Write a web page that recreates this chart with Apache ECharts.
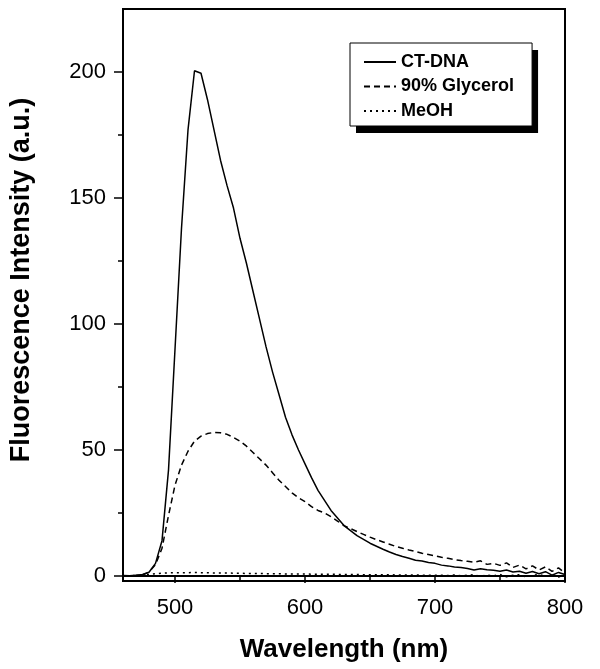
<!DOCTYPE html>
<html>
<head>
<meta charset="utf-8">
<script src="https://cdn.jsdelivr.net/npm/echarts@6/dist/echarts.min.js"></script>
<style>
  html, body { margin: 0; padding: 0; background: #fff; }
  #chart { width: 600px; height: 669px; }
</style>
</head>
<body>
<div id="chart"></div>
<script>
// wavelength (nm)
const wavelengths = [
  460, 465, 470, 475, 480, 485, 490, 495, 500, 505,
  510, 515, 520, 525, 530, 535, 540, 545, 550, 555,
  560, 565, 570, 575, 580, 585, 590, 595, 600, 605,
  610, 615, 620, 625, 630, 635, 640, 645, 650, 655,
  660, 665, 670, 675, 680, 685, 690, 695, 700, 705,
  710, 715, 720, 725, 730, 735, 740, 745, 750, 755,
  760, 765, 770, 775, 780, 785, 790, 795, 800
]
const ctDna = [
  0.2, 0.1, 0.3, 0.6, 1.5, 5, 14, 42, 90, 138,
  177, 200.5, 199.5, 189, 177, 165, 155, 146, 134, 124,
  113, 102, 91, 81, 72, 63, 56, 50, 44.5, 39,
  34, 30, 26, 23, 20, 18, 16, 14.5, 13, 11.8,
  10.6, 9.5, 8.5, 7.7, 7, 6.2, 5.9, 5.3, 5, 4.3,
  4, 3.6, 3.4, 3, 2.4, 2.9, 2.5, 2.3, 1.9, 2.4,
  1.6, 1.9, 1.1, 1.8, 0.9, 1.7, 0.3, 1.4, 0.6
]
const glycerol = [
  0, 0.1, 0.2, 0.4, 1.5, 4.5, 11, 24, 36, 44,
  49.5, 53.5, 55.5, 56.5, 57, 56.8, 56.2, 55, 53.5, 51.5,
  49, 46.5, 44, 41, 38, 35.5, 33, 31, 29.5, 27.5,
  26, 25, 23.5, 21.8, 20, 18.8, 17.6, 16.5, 15.4, 14.4,
  13.5, 12.6, 11.7, 11, 10.3, 9.7, 9, 8.5, 8, 7.4,
  7, 6.5, 6.1, 5.8, 5.4, 6, 4.6, 5, 4.2, 5.2,
  3.4, 4.3, 2.8, 4, 2.4, 3.6, 1.8, 3.2, 1.2
]
const meoh = [
  0, 0, 0.1, 0.3, 0.6, 0.9, 1.1, 1.2, 1.3, 1.3,
  1.3, 1.4, 1.3, 1.3, 1.2, 1.2, 1.2, 1.1, 1.1, 1.0,
  1.0, 1.0, 0.9, 0.9, 0.9, 0.8, 0.8, 0.8, 0.8, 0.7,
  0.7, 0.7, 0.7, 0.6, 0.6, 0.6, 0.6, 0.5, 0.5, 0.5,
  0.5, 0.5, 0.4, 0.4, 0.4, 0.4, 0.3, 0.3, 0.3, 0.3,
  0.2, 0.4, 0.1, 0.3, 0.5, -0.2, 0.4, 0.0, 0.6, -0.3,
  0.3, 0.5, -0.4, 0.2, 0.6, -0.2, 0.3, -0.4, 0.2
]
const seriesNames = ['CT-DNA', '90% Glycerol', 'MeOH']
const xMajorTicks = [500, 600, 700, 800]
const xMinorTicks = [550, 650, 750]
const yMajorTicks = [0, 50, 100, 150, 200]
const yMinorTicks = [25, 75, 125, 175]

const pairs = (ys) => wavelengths.map((x, i) => [x, ys[i]])

const font = 'Liberation Sans, Arial, Helvetica, sans-serif'
const chart = echarts.init(document.getElementById('chart'))

// shared legend layout; the second copy, filled black and shifted, acts as the drop shadow
const legendBase = {
  data: seriesNames,
  orient: 'vertical',
  padding: [10, 18, 6, 13],
  itemWidth: 32,
  itemHeight: 14,
  itemGap: 6.5,
  borderRadius: 0,
  textStyle: { fontFamily: font, fontWeight: 'bold', fontSize: 18, lineHeight: 18, color: '#000' }
}

chart.setOption({
  animation: false,
  grid: {
    left: 120, right: 35, top: 9, bottom: 88,
    show: true,
    borderColor: '#000',
    borderWidth: 2
  },
  legend: [
    Object.assign({}, legendBase, {
      left: 356,
      top: 50,
      z: 3,
      backgroundColor: '#000',
      borderWidth: 0,
      itemStyle: { color: '#000', borderWidth: 0 },
      lineStyle: { color: '#000' }
    }),
    Object.assign({}, legendBase, {
      left: 350,
      top: 43,
      z: 4,
      backgroundColor: '#fff',
      borderColor: '#000',
      borderWidth: 1,
      itemStyle: { opacity: 0, borderWidth: 0 }
    })
  ],
  xAxis: [
    {
      type: 'value',
      min: 460, max: 800,
      name: 'Wavelength (nm)',
      nameLocation: 'middle',
      nameGap: 56,
      nameTextStyle: { fontFamily: font, fontWeight: 'bold', fontSize: 26, color: '#000' },
      splitLine: { show: false },
      axisLine: { show: true, lineStyle: { color: '#000', width: 2 } },
      axisTick: { show: true, inside: false, length: 7, customValues: xMajorTicks, lineStyle: { color: '#000', width: 1.5 } },
      axisLabel: { customValues: xMajorTicks, margin: 16, fontFamily: font, fontSize: 22, color: '#000' }
    },
    {
      type: 'value',
      min: 460, max: 800,
      position: 'bottom',
      splitLine: { show: false },
      axisLine: { show: false },
      axisTick: { show: true, length: 5, customValues: xMinorTicks, lineStyle: { color: '#000', width: 1.5 } },
      axisLabel: { show: false }
    }
  ],
  yAxis: [
    {
      type: 'value',
      min: -2, max: 225,
      name: 'Fluorescence Intensity (a.u.)',
      nameLocation: 'middle',
      nameGap: 88,
      nameTextStyle: { fontFamily: font, fontWeight: 'bold', fontSize: 27, color: '#000', padding: [0, 0, 0, 30] },
      splitLine: { show: false },
      axisLine: { show: true, lineStyle: { color: '#000', width: 2 } },
      axisTick: { show: true, length: 9, customValues: yMajorTicks, lineStyle: { color: '#000', width: 1.5 } },
      axisLabel: { customValues: yMajorTicks, margin: 17, fontFamily: font, fontSize: 22, color: '#000' }
    },
    {
      type: 'value',
      min: -2, max: 225,
      position: 'left',
      splitLine: { show: false },
      axisLine: { show: false },
      axisTick: { show: true, length: 5, customValues: yMinorTicks, lineStyle: { color: '#000', width: 1.5 } },
      axisLabel: { show: false }
    }
  ],
  series: [
    {
      name: seriesNames[0],
      type: 'line',
      data: pairs(ctDna),
      showSymbol: false,
      symbol: 'none',
      lineStyle: { color: '#000', width: 1.5, type: 'solid' },
      itemStyle: { color: '#000' }
    },
    {
      name: seriesNames[1],
      type: 'line',
      data: pairs(glycerol),
      showSymbol: false,
      symbol: 'none',
      lineStyle: { color: '#000', width: 1.5, type: [6, 4] },
      itemStyle: { color: '#000' }
    },
    {
      name: seriesNames[2],
      type: 'line',
      data: pairs(meoh),
      showSymbol: false,
      symbol: 'none',
      lineStyle: { color: '#000', width: 1.5, type: [2, 4] },
      itemStyle: { color: '#000' }
    }
  ]
})
</script>
</body>
</html>
